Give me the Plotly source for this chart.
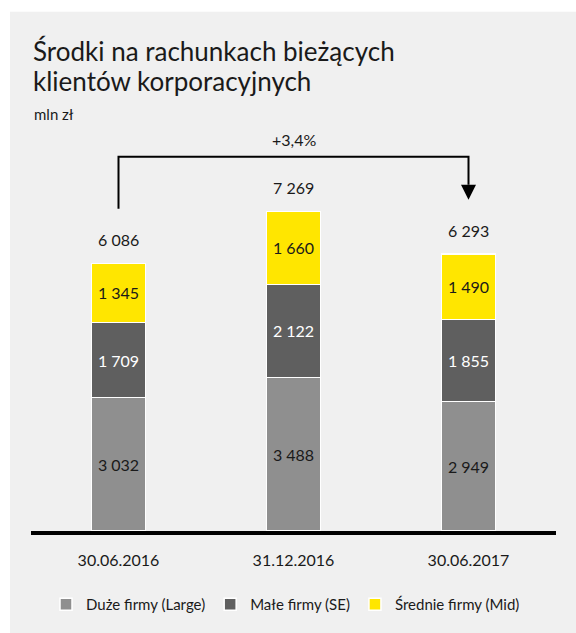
import plotly.graph_objects as go

# Balances on current accounts of corporate clients, PLN m
categories = ["30.06.2016", "31.12.2016", "30.06.2017"]
large = [3032, 3488, 2949]   # Duże firmy (Large)
se = [1709, 2122, 1855]      # Małe firmy (SE)
mid = [1345, 1660, 1490]     # Średnie firmy (Mid)
totals = [6086, 7269, 6293]
change_label = "+3,4%"
title_lines = ["Środki na rachunkach bieżących", "klientów korporacyjnych"]
unit_label = "mln zł"

FONT = "Lato"
TEXT = "#1a1a1a"
PANEL = "#f0f0f0"

W, H = 576, 633
M_L, M_R, M_T, M_B = 31, 20, 120, 99
plot_w = W - M_L - M_R
plot_h = H - M_T - M_B
y_max = 9345
unit = y_max / plot_h  # data units per pixel


def fmt(v):
    return f"{v:,}".replace(",", " ")


def px_x(px):
    return (px - M_L) / plot_w


def px_y(py):
    return (H - M_B - py) / plot_h


fig = go.Figure()

series = [
    ("Duże firmy (Large)", large, "#8f8f8f", TEXT),
    ("Małe firmy (SE)", se, "#5f5f5f", "white"),
    ("Średnie firmy (Mid)", mid, "#ffe600", TEXT),
]
for name, vals, color, tcolor in series:
    fig.add_trace(go.Bar(
        name=name, x=categories, y=vals,
        marker=dict(color=color, line=dict(color="white", width=1.5)),
        width=0.31,
        text=[fmt(v) for v in vals],
        textposition="inside", insidetextanchor="middle",
        textangle=0, constraintext="none",
        textfont=dict(family=FONT, size=16, color=tcolor),
        hoverinfo="skip",
    ))

# totals above each stack
for c, t in zip(categories, totals):
    fig.add_annotation(x=c, y=t, yshift=24, text=fmt(t), showarrow=False,
                       font=dict(family=FONT, size=16, color=TEXT))

# change bracket from the first to the last period
gap = 55 * unit
head = 15 * unit
top = max(totals) + gap
fig.add_trace(go.Scatter(
    x=[categories[0], categories[0], categories[2], categories[2]],
    y=[totals[0] + gap, top, top, totals[2] + gap + head],
    mode="lines", line=dict(color="black", width=2),
    showlegend=False, hoverinfo="skip",
))
fig.add_shape(type="path", xref="x", yref="y",
              xsizemode="pixel", ysizemode="pixel",
              xanchor=2, yanchor=totals[2] + gap,
              path="M-7.5,15 L7.5,15 L0,0 Z",
              fillcolor="black", line=dict(width=0))
fig.add_annotation(x=categories[1], y=top, yshift=17, text=change_label,
                   showarrow=False, font=dict(family=FONT, size=16, color=TEXT))

# panel background
fig.add_shape(type="rect", xref="paper", yref="paper", layer="below",
              x0=px_x(10), x1=1.2, y0=-0.4, y1=px_y(11),
              fillcolor=PANEL, line=dict(width=0))

# title and unit
for line, cy in zip(title_lines, [50, 81]):
    fig.add_annotation(xref="paper", yref="paper", x=px_x(31), y=px_y(cy),
                       xanchor="left", yanchor="middle", text=line,
                       showarrow=False,
                       font=dict(family=FONT, size=26, color=TEXT))
fig.add_annotation(xref="paper", yref="paper", x=px_x(32), y=px_y(114),
                   xanchor="left", yanchor="middle", text=unit_label,
                   showarrow=False, font=dict(family=FONT, size=15, color=TEXT))

fig.update_layout(
    width=W, height=H,
    margin=dict(l=M_L, r=M_R, t=M_T, b=M_B),
    barmode="stack",
    paper_bgcolor="white", plot_bgcolor="rgba(0,0,0,0)",
    xaxis=dict(type="category", showline=True, linewidth=4, linecolor="black",
               showgrid=False, ticks="", ticklabelstandoff=12,
               tickfont=dict(family=FONT, size=16, color=TEXT), fixedrange=True),
    yaxis=dict(range=[0, y_max], visible=False, fixedrange=True),
    legend=dict(orientation="h", traceorder="normal",
                xanchor="left", yanchor="middle",
                x=px_x(46), y=px_y(608),
                font=dict(family=FONT, size=15, color=TEXT),
                bgcolor="rgba(0,0,0,0)", itemclick=False, itemdoubleclick=False),
    showlegend=True,
    separators=", ",
)

fig.write_html("out.html")
